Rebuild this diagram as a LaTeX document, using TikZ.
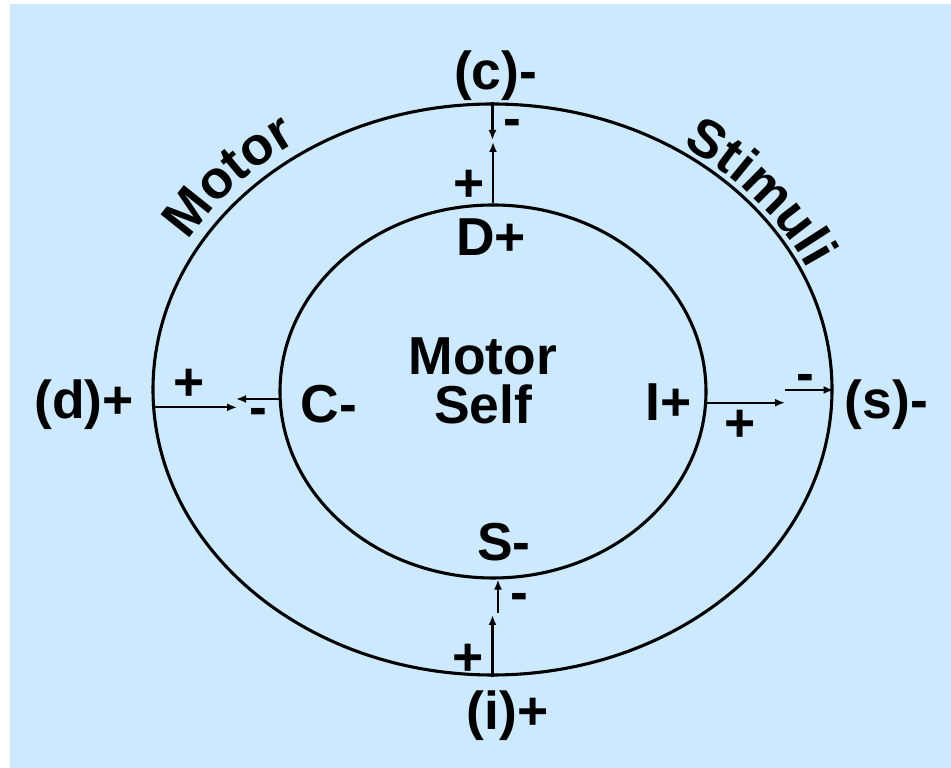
\documentclass[tikz,border=0pt]{standalone}
\usepackage{fontspec}
\setmainfont{Liberation Sans}
\usetikzlibrary{arrows.meta,shapes.geometric,decorations.text}

\definecolor{bgblue}{RGB}{204,233,253}
\newcommand{\lblfont}{\fontsize{38}{35}\selectfont\bfseries}

\begin{document}
\begin{tikzpicture}[
  lbl/.style={font=\lblfont, inner sep=0pt},
  ring/.style={draw, ellipse, line width=2.2pt, inner sep=0pt},
  arr/.style={line width=1.5pt, -{Latex[length=2.5mm,width=2mm]}}
]

% Background
\fill[white] (0,0) rectangle (23.775,19.2);
\fill[bgblue] (0.25,0) rectangle (23.775,19.1);
\useasboundingbox (0,0) rectangle (23.775,19.2);

% Rings
\node[ring, minimum width=16.975cm, minimum height=14.275cm] (outer) at (12.3125,9.4625) {};
\node[ring, minimum width=10.65cm, minimum height=9.325cm] (inner) at (12.325,9.4125) {};

% Arrow ends
\coordinate (topA) at (12.3,15.7);
\coordinate (topB) at (12.3,15.65);
\coordinate (leftA) at (5.925,9.025);
\coordinate (leftB) at (5.9,9.275);
\coordinate (rightA) at (19.625,9.15);
\coordinate (rightB) at (19.625,9.45);
\coordinate (botA) at (12.3,3.825);
\coordinate (botB) at (12.45,3.875);

% Arrows
\draw[arr] (outer.north) -- (outer.north |- topA);
\draw[arr] (inner.north) -- (inner.north |- topB);
\draw[arr] (outer.183) -- (outer.183 -| leftA);
\draw[arr] (inner.182) -- (inner.182 -| leftB);
\draw[arr] (inner.357) -- (inner.357 -| rightA);
\draw[arr] (rightB) -- (rightB -| outer.east);
\draw[arr] (outer.south) -- (outer.south |- botA);
\draw[arr] (botB) -- (botB |- inner.271);

% Labels
\node[lbl] (c) at (12.39,17.3) {(c)-};
\node[lbl] (D) at (12.275,13.275) {D+};
\node[lbl] (C) at (8.225,9.1) {C-};
\node[lbl] (I) at (16.725,9.15) {I+};
\node[lbl] (s) at (22.16,9.075) {(s)-};
\node[lbl] (d) at (2.1,9.075) {(d)+};
\node[lbl] (S) at (12.6,5.65) {S-};
\node[lbl] (i) at (12.69,1.3) {(i)+};
\node[lbl, align=center] (self) at (12.075,9.675) {Motor\\Self};

% Signs
\node[lbl] (topm) at (12.8,16.0) {-};
\node[lbl] (topp) at (11.725,14.55) {+};
\node[lbl] (leftp) at (4.725,9.58) {+};
\node[lbl] (leftm) at (6.45,8.775) {-};
\node[lbl] (rightm) at (20.125,9.625) {-};
\node[lbl] (rightp) at (18.5,8.555) {+};
\node[lbl] (botm) at (12.975,4.15) {-};
\node[lbl] (botp) at (11.7,2.705) {+};

% Arc labels
\path[decorate, decoration={text along path, text align=center, text={|\lblfont|Motor}}]
  (outer.center) ++(162:8.79cm and 7.44cm) arc[start angle=162, end angle=113, x radius=8.79cm, y radius=7.44cm];
\path[decorate, decoration={text along path, text align=center, text={|\lblfont|Stimuli}}]
  (outer.center) ++(65:8.64cm and 7.29cm) arc[start angle=65, end angle=15, x radius=8.64cm, y radius=7.29cm];

\end{tikzpicture}
\end{document}
